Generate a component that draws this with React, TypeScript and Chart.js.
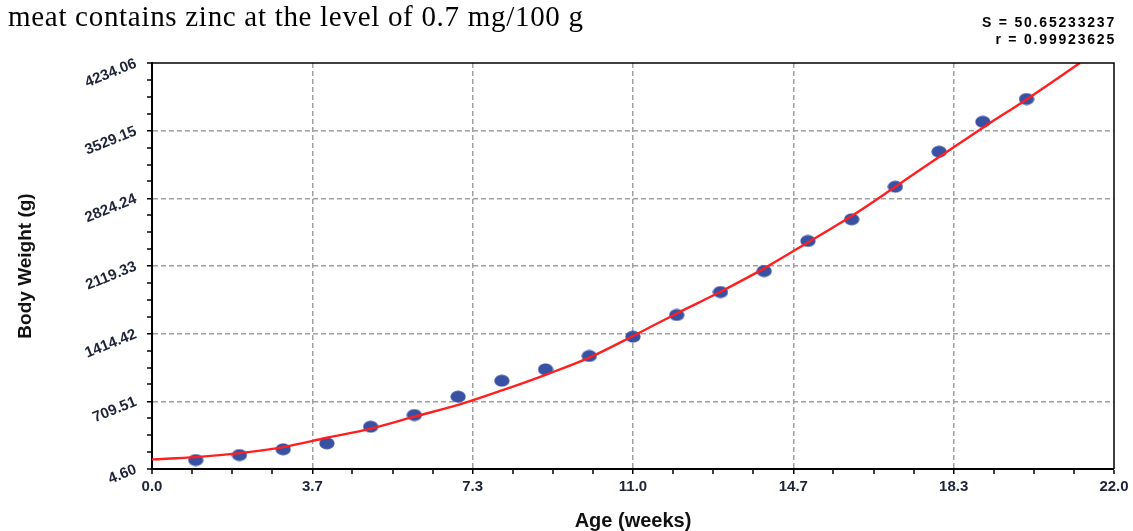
import React, { useEffect, useRef } from 'react';
import { Chart, registerables } from 'chart.js';

Chart.register(...registerables);

const caption = 'meat contains zinc at the level of 0.7 mg/100 g';
const statS = 'S = 50.65233237';
const statR = 'r = 0.99923625';
const xTitle = 'Age (weeks)';
const yTitle = 'Body Weight (g)';

// observed points
const ageWeeks = [1, 2, 3, 4, 5, 6, 7, 8, 9, 10, 11, 12, 13, 14, 15, 16, 17, 18, 19, 20];
const bodyWeight = [98, 150, 210, 272, 445, 567, 758, 924, 1043, 1182, 1383, 1609, 1848, 2067, 2380, 2606, 2945, 3310, 3622, 3859];

// fitted curve
const fitAge = [0, 1, 2, 3, 4, 5, 6, 7, 8, 9, 10, 11, 12, 13, 14, 15, 16, 17, 18, 19, 20, 21.22];
const fitWeight = [105, 128, 170, 233, 330, 425, 550, 672, 823, 986, 1165, 1390, 1625, 1851, 2095, 2365, 2640, 2945, 3255, 3560, 3855, 4234];

// axis ticks
const xMajorTicks = [0, 3.6667, 7.3333, 11, 14.6667, 18.3333, 22];
const xTickLabels = ['0.0', '3.7', '7.3', '11.0', '14.7', '18.3', '22.0'];
const yMajorTicks = [4.6, 709.51, 1414.42, 2119.33, 2824.24, 3529.15, 4234.06];
const yTickLabels = ['4.60', '709.51', '1414.42', '2119.33', '2824.24', '3529.15', '4234.06'];
const SUB = 4;

function withMinor(majors: number[]): number[] {
  const out: number[] = [];
  for (let i = 0; i < majors.length - 1; i++) {
    const a = majors[i];
    const b = majors[i + 1];
    for (let k = 0; k < SUB; k++) out.push(a + ((b - a) * k) / SUB);
  }
  out.push(majors[majors.length - 1]);
  return out;
}

const FONT = "'Liberation Sans', Arial, Helvetica, sans-serif";
const TICK_COLOR = '#1d2438';

export default function App() {
  const ref = useRef<HTMLCanvasElement>(null);

  useEffect(() => {
    const canvas = ref.current;
    if (!canvas) return;

    const dot = document.createElement('canvas');
    dot.width = 16;
    dot.height = 13;
    const dctx = dot.getContext('2d')!;
    dctx.fillStyle = '#3851a2';
    dctx.beginPath();
    dctx.ellipse(8, 6.5, 7.6, 6.0, 0, 0, Math.PI * 2);
    dctx.fill();

    const xAll = withMinor(xMajorTicks);
    const yAll = withMinor(yMajorTicks);
    const lastX = xAll.length - 1;
    const lastY = yAll.length - 1;

    const frame = {
      id: 'frame',
      afterDraw(chart: any) {
        const { ctx, chartArea: a } = chart;
        ctx.save();
        ctx.strokeStyle = '#000';
        ctx.lineWidth = 1.5;
        ctx.beginPath();
        ctx.moveTo(a.left, a.top);
        ctx.lineTo(a.right, a.top);
        ctx.lineTo(a.right, a.bottom);
        ctx.stroke();
        ctx.restore();
      },
    };

    const chart = new Chart(canvas, {
      type: 'scatter',
      data: {
        datasets: [
          {
            type: 'line',
            label: 'fit',
            data: fitAge.map((x, i) => ({ x, y: fitWeight[i] })),
            borderColor: '#ff1f1f',
            borderWidth: 2.4,
            pointRadius: 0,
            cubicInterpolationMode: 'monotone',
            order: 0,
          } as any,
          {
            type: 'scatter',
            label: 'observed',
            data: ageWeeks.map((x, i) => ({ x, y: bodyWeight[i] })),
            pointStyle: dot,
            pointRadius: 7,
            backgroundColor: '#3851a2',
            borderWidth: 0,
            order: 1,
          } as any,
        ],
      },
      options: {
        responsive: false,
        animation: false,
        devicePixelRatio: 1,
        layout: { padding: { left: 0, top: 63, right: 19, bottom: 0 } },
        plugins: { legend: { display: false }, tooltip: { enabled: false } },
        scales: {
          x: {
            type: 'linear',
            min: 0,
            max: 22,
            afterBuildTicks: (s: any) => {
              s.ticks = xAll.map((v) => ({ value: v }));
            },
            afterFit: (s: any) => {
              s.height = 62;
            },
            ticks: {
              autoSkip: false,
              maxRotation: 0,
              minRotation: 0,
              padding: 4,
              color: TICK_COLOR,
              font: { family: FONT, size: 15, weight: 'bold' },
              callback: (_v: any, i: number) => (i % SUB === 0 ? xTickLabels[i / SUB] : ''),
            },
            grid: {
              color: '#a0a0a0',
              lineWidth: (c: any) => (c.index % SUB === 0 && c.index !== 0 && c.index !== lastX ? 1.5 : 0),
              drawTicks: true,
              tickLength: 5,
              tickColor: '#000',
              tickWidth: 1.5,
            },
            border: { display: true, color: '#000', width: 2, dash: [5, 3] },
            title: {
              display: true,
              text: xTitle,
              color: '#111',
              font: { family: FONT, size: 20, weight: 'bold', lineHeight: 1 },
              padding: 0,
            },
          },
          y: {
            type: 'linear',
            min: 4.6,
            max: 4234.06,
            afterBuildTicks: (s: any) => {
              s.ticks = yAll.map((v) => ({ value: v }));
            },
            afterFit: (s: any) => {
              s.width = 152;
            },
            ticks: {
              autoSkip: false,
              minRotation: 22,
              maxRotation: 22,
              padding: 11,
              color: TICK_COLOR,
              font: { family: FONT, size: 15, weight: 'bold' },
              callback: (_v: any, i: number) => (i % SUB === 0 ? yTickLabels[i / SUB] : ''),
            },
            grid: {
              color: '#a0a0a0',
              lineWidth: (c: any) => (c.index % SUB === 0 && c.index !== 0 && c.index !== lastY ? 1.5 : 0),
              drawTicks: true,
              tickLength: 5,
              tickColor: '#000',
              tickWidth: 1.5,
            },
            border: { display: true, color: '#000', width: 2, dash: [5, 3] },
            title: {
              display: true,
              text: yTitle,
              color: '#111',
              font: { family: FONT, size: 19, weight: 'bold' },
              padding: { top: 14.6, bottom: 0 },
            },
          },
        },
      } as any,
      plugins: [frame],
    });

    return () => chart.destroy();
  }, []);

  return (
    <div style={{ position: 'absolute', left: 0, top: 0, width: 1133, height: 531, background: '#fff', overflow: 'hidden' }}>
      <canvas ref={ref} width={1133} height={531} style={{ position: 'absolute', left: 0, top: 0 }} />
      <div
        style={{
          position: 'absolute',
          left: 8,
          top: 2,
          fontFamily: "'Liberation Serif', 'Times New Roman', serif",
          fontSize: 29,
          lineHeight: '29px',
          letterSpacing: '0.7px',
          color: '#000',
          whiteSpace: 'nowrap',
        }}
      >
        {caption}
      </div>
      <div
        style={{
          position: 'absolute',
          right: 17,
          top: 14,
          textAlign: 'right',
          fontFamily: FONT,
          fontWeight: 'bold',
          fontSize: 14,
          lineHeight: '17px',
          letterSpacing: '1.8px',
          color: '#000',
          whiteSpace: 'nowrap',
        }}
      >
        <div>{statS}</div>
        <div>{statR}</div>
      </div>
    </div>
  );
}
